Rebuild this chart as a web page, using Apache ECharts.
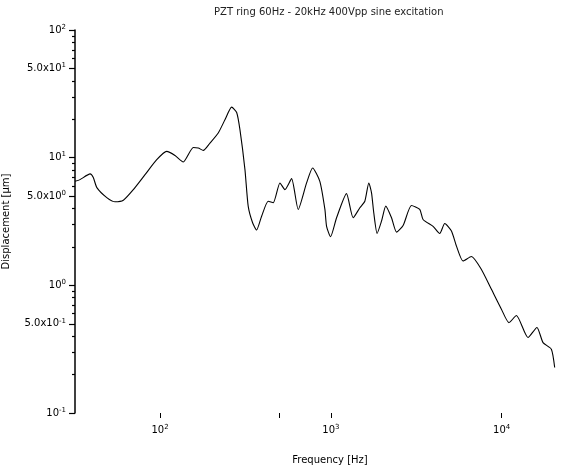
<!DOCTYPE html>
<html>
<head>
<meta charset="utf-8">
<script src="https://cdn.jsdelivr.net/npm/echarts@6/dist/echarts.min.js"></script>
<style>html,body{margin:0;padding:0;background:#fff}#c{width:586px;height:468px}</style>
</head>
<body>
<div id="c"></div>
<script>
const titleText = 'PZT ring 60Hz - 20kHz 400Vpp sine excitation';
const xName = 'Frequency [Hz]';
const yName = 'Displacement [\u03bcm]';

const freq = [31.8, 34.0, 39.0, 40.7, 42.7, 48.8, 54.6, 61.0, 69.8, 81.7, 95.7, 109.4, 122.4, 136.8, 156.6, 167.5, 179.2, 196.0, 219.2, 239.9, 262.6, 281.0, 293.8, 314.2, 328.2, 348.3, 367.5, 393.3, 429.8, 460, 503.5, 538.4, 589, 644, 721, 782, 862, 923, 944, 996, 1080, 1235, 1350, 1478, 1581, 1668, 1730, 1783, 1865, 1979, 2097, 2265, 2423, 2648, 2963, 3314, 3465, 3966, 4338, 4641, 5080, 5434, 5941, 6648, 7608, 8706, 9961, 11030, 12190, 14250, 16080, 17450, 19530, 20420];
const disp = [6.53, 6.73, 7.46, 6.98, 5.83, 4.87, 4.51, 4.64, 5.62, 7.36, 9.64, 11.2, 10.4, 9.25, 12.0, 11.9, 11.4, 13.0, 15.6, 19.8, 24.9, 22.6, 16.5, 8.06, 4.17, 3.09, 2.71, 3.48, 4.56, 4.43, 6.34, 5.62, 6.85, 3.93, 6.34, 8.31, 6.53, 3.93, 2.90, 2.40, 3.38, 5.23, 3.38, 4.05, 4.56, 6.34, 5.30, 3.70, 2.55, 3.18, 4.17, 3.38, 2.61, 2.94, 4.22, 3.93, 3.28, 2.90, 2.55, 3.05, 2.66, 2.03, 1.55, 1.68, 1.33, 0.93, 0.65, 0.51, 0.58, 0.39, 0.468, 0.356, 0.316, 0.227];

const xTickValues = [100, 500, 1000, 10000];
const xLabelValues = [100, 1000, 10000];
const yLabelValues = [0.1, 0.5, 1, 5, 10, 50, 100];
const yMinorValues = [0.2, 0.3, 0.4, 0.6, 0.7, 0.8, 0.9, 2, 3, 4, 6, 7, 8, 9, 20, 30, 40, 60, 70, 80, 90];
const xMin = 31.8, xMax = 30730, yMin = 0.1, yMax = 100;

function fmtPow(v) {
  const e = Math.floor(Math.log10(v) + 1e-9);
  const m = v / Math.pow(10, e);
  if (Math.abs(m - 1) < 1e-6) return '10{s|' + e + '}';
  return m.toFixed(1) + 'x10{s|' + e + '}';
}
const FONT = 'DejaVu Sans';
const rich = { s: { fontSize: 7, fontFamily: FONT, color: '#000', verticalAlign: 'top', padding: [0, 0, 6, 0] } };

const chart = echarts.init(document.getElementById('c'), null, { renderer: 'canvas' });
chart.setOption({
  animation: false,
  backgroundColor: '#fff',
  title: {
    text: titleText, left: 209, top: 2,
    textStyle: { fontSize: 10, fontWeight: 'normal', color: '#222', fontFamily: FONT }
  },
  grid: { left: 75, right: 1, top: 30, bottom: 55, containLabel: false, outerBoundsMode: 'none' },
  xAxis: {
    type: 'log', logBase: 10, min: xMin, max: xMax,
    name: xName, nameLocation: 'middle', nameGap: 42,
    nameTextStyle: { fontSize: 10, color: '#000', fontFamily: FONT },
    axisLine: { show: false },
    axisTick: { show: true, length: 5, customValues: xTickValues, lineStyle: { color: '#000', width: 1 } },
    axisLabel: { customValues: xLabelValues, formatter: fmtPow, rich: rich, fontSize: 10, color: '#000', fontFamily: FONT, margin: 11 },
    splitLine: { show: false }
  },
  yAxis: [{
    type: 'log', logBase: 10, min: yMin, max: yMax,
    name: yName, nameLocation: 'middle', nameGap: 64, nameRotate: 90,
    nameTextStyle: { fontSize: 10, color: '#000', fontFamily: FONT },
    axisLine: { show: true, lineStyle: { color: '#000', width: 1.5 } },
    axisTick: { show: true, length: 6, customValues: yLabelValues, lineStyle: { color: '#000', width: 1.2 } },
    axisLabel: { customValues: yLabelValues, formatter: fmtPow, rich: rich, fontSize: 10, color: '#000', fontFamily: FONT, margin: 9 },
    splitLine: { show: false }
  }, {
    type: 'log', logBase: 10, min: yMin, max: yMax, position: 'left',
    axisLine: { show: false },
    axisTick: { show: true, length: 3, customValues: yMinorValues, lineStyle: { color: '#000', width: 1.2 } },
    axisLabel: { show: false },
    splitLine: { show: false }
  }],
  series: [{
    type: 'line',
    data: freq.map((f, i) => [f, disp[i]]),
    showSymbol: false,
    smooth: 0.2,
    lineStyle: { color: '#000', width: 1.1 }
  }]
});
</script>
</body>
</html>
